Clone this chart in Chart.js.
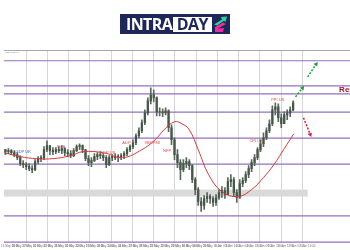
<!DOCTYPE html>
<html><head><meta charset="utf-8">
<script src="https://cdn.jsdelivr.net/npm/chart.js@4.4.1/dist/chart.umd.min.js"></script>
<style>
html,body{margin:0;padding:0;background:#fff;width:350px;height:250px;overflow:hidden}
#wrap{position:absolute;left:0;top:0;width:350px;height:250px}
.logo{position:absolute;left:120px;top:14px;width:110px;height:20px;background:#1e2858;font-family:'Open Sans',sans-serif;font-weight:700;z-index:2}
.logo .a{position:absolute;left:6px;top:0;line-height:20px;font-size:16px;color:#fff;letter-spacing:-0.6px}
.logo .b{position:absolute;left:53px;top:2.5px;width:38.5px;height:15px;background:#fff;color:#1e2858;font-size:16px;line-height:15px;text-align:center;letter-spacing:-0.6px}
.logo svg{position:absolute;left:93px;top:2px}
</style></head>
<body>
<div id="wrap"><canvas id="c"></canvas></div>
<div class="logo"><span class="a">INTRA</span><span class="b">DAY</span>
<svg width="15" height="17" viewBox="0 0 15 17"><polygon points="1,8.5 9,3.5 8,1 14,0.5 12.5,6 11,4.8 4,9.5" fill="#2fd39a"/><polygon points="2,11 10,6.5 13,8 5,12.5 11,12 10,16 2,16" fill="#e52f9c"/></svg>
</div>
<script>
const tickLabels = ['16 May 08:00','16 May 22:00','17 May 12:00','20 May 02:00','20 May 16:00','21 May 06:00','21 May 20:00','22 May 10:00','23 May 00:00','23 May 14:00','24 May 04:00','24 May 18:00','27 May 08:00','27 May 22:00','28 May 12:00','29 May 02:00','29 May 16:00','30 May 06:00','30 May 20:00','31 May 10:00','3 Jun 00:00','3 Jun 14:00','4 Jun 04:00','4 Jun 18:00','5 Jun 08:00','5 Jun 22:00','6 Jun 12:00','7 Jun 02:00','7 Jun 16:00'];

const highs = [1.2650,1.26525,1.2650,1.26475,1.26425,1.2635,1.26225,1.26175,1.2615,1.2610,
1.2625,1.26325,1.2635,1.26575,1.26725,1.2660,1.2655,1.2655,1.26575,1.2660,
1.2655,1.2650,1.26475,1.26525,1.26625,1.2665,1.26625,1.2650,1.2635,1.2630,
1.2640,1.26425,1.2645,1.2640,1.2635,1.2635,1.26375,1.2640,1.26375,1.2640,
1.2645,1.2655,1.26625,1.2675,1.2690,1.2705,1.2725,1.2750,1.2780,1.2805,
1.2800,1.27825,1.2755,1.27525,1.2755,1.2750,1.27125,1.2680,1.2650,1.2625,
1.2625,1.2630,1.2625,1.26125,1.2580,1.2555,1.2530,1.2535,1.25425,1.25375,
1.25325,1.25375,1.2550,1.25575,1.2555,1.2580,1.25875,1.2580,1.2550,1.2575,
1.2580,1.2595,1.2610,1.2625,1.26375,1.2655,1.2675,1.26925,1.2705,1.2725,
1.2760,1.27675,1.2765,1.2740,1.2745,1.2750,1.27575,1.27725];

const lows = [1.26375,1.2640,1.26375,1.26325,1.2625,1.2610,1.2605,1.2600,1.25975,1.25925,
1.25975,1.2615,1.2620,1.2625,1.2645,1.26375,1.26375,1.2640,1.26425,1.2640,
1.2635,1.26325,1.2630,1.26325,1.2645,1.2650,1.26425,1.26225,1.2610,1.26075,
1.2620,1.2625,1.26275,1.26225,1.2605,1.2610,1.26225,1.2625,1.2620,1.2625,
1.26275,1.2635,1.2645,1.26525,1.26625,1.2680,1.26925,1.27125,1.27375,1.2765,
1.2770,1.2735,1.2735,1.27325,1.27375,1.2695,1.26625,1.2625,1.2605,1.2575,
1.2595,1.2605,1.2600,1.25675,1.25375,1.2510,1.2495,1.2500,1.25175,1.2515,
1.25075,1.2510,1.2525,1.2530,1.25275,1.2540,1.25575,1.25325,1.25175,1.25275,
1.25575,1.25675,1.2580,1.2595,1.2610,1.2625,1.2645,1.26575,1.2675,1.26925,
1.2710,1.27375,1.2720,1.2705,1.2715,1.2725,1.27325,1.27475];

const closes = [1.2645,1.26475,1.26425,1.26375,1.2630,1.2615,1.26125,1.26075,1.26025,1.2600,
1.2620,1.26275,1.2630,1.2650,1.2660,1.26475,1.2645,1.2650,1.26475,1.26525,
1.26425,1.2640,1.2635,1.26475,1.26575,1.2660,1.2650,1.26275,1.26175,1.26225,
1.26325,1.26375,1.2635,1.2630,1.26125,1.2630,1.26325,1.2630,1.26325,1.2635,
1.2640,1.2650,1.26575,1.26675,1.2685,1.26975,1.27175,1.27425,1.27725,1.27875,
1.2780,1.2745,1.2745,1.27425,1.27475,1.2705,1.2675,1.26375,1.26175,1.2600,
1.2615,1.2620,1.2610,1.2575,1.2550,1.2520,1.2510,1.25275,1.25325,1.25275,
1.25175,1.2530,1.25425,1.25475,1.25375,1.2570,1.2575,1.25425,1.2530,1.2565,
1.25725,1.25875,1.26025,1.26175,1.2630,1.2650,1.2665,1.2680,1.26975,1.2715,
1.2750,1.27575,1.2730,1.2715,1.27375,1.27425,1.2750,1.27675];
const firstOpen = 1.2650;

const maIdx  = [-0.5,5,10.5,16,22,26,33,39.5,46,50.5,53.5,57,59.5,62,65,68.5,73,78.5,83,87,90.5,94,97.2];
const maVals = [1.26425,1.26325,1.26275,1.26275,1.2635,1.2645,1.26425,1.2630,1.2650,1.2675,1.2700,1.2720,1.2715,1.2700,1.2650,1.25875,1.2545,1.25325,1.2550,1.2580,1.26125,1.26525,1.2690];

const levels = [1.2873,1.2810,1.2790,1.2744,1.2679,1.2614,1.2484,1.2418];
const zoneLow = 1.25325, zoneHigh = 1.2550;

const upArrow1X = [97.8,100.2],  upArrow1Y = [1.27825,1.2805];
const upArrow2X = [101.9,104.8], upArrow2Y = [1.28325,1.2865];
const downArrowX = [100.5,102.8], downArrowY = [1.2730,1.26875];

const ukEventNames = ['GDP UK'], ukEventIdx = [6], ukEventPrice = [1.2645];
const usEventNames = ['PCE','GDP US','ADP','ISM/PMI','NFP','CPI US','PPI US'];
const usEventIdx   = [18.8,34.5,40.8,49.5,54.5,84.5,91.8];
const usEventPrice = [1.26575,1.26425,1.26675,1.26675,1.26475,1.26725,1.2775];
const resLabel = 'Resistance', resIdx = 112.5, resPrice = 1.2800;
const chartTitle = 'GBPUSD,H4';

const TICK0 = 1.57, TICKSTEP = 3.583;
const zoneEnd = TICK0 + TICKSTEP * (tickLabels.length - 1);

const wickData = highs.map((h,i)=>({x:i, y:[lows[i], h]}));
const bodyData = closes.map((c,i)=>({x:i, y:[i===0?firstOpen:closes[i-1], c]}));
const maData = maIdx.map((v,i)=>({x:v, y:maVals[i]}));
const pts = (xs,ys)=>xs.map((v,i)=>({x:v,y:ys[i]}));

const overlay = {
  id:'overlay',
  beforeDatasetsDraw(chart){
    const {ctx, chartArea:a, scales:{x,y}} = chart;
    ctx.save();
    const zt=y.getPixelForValue(zoneHigh), zb=y.getPixelForValue(zoneLow);
    ctx.fillStyle='#d9d9d9';
    ctx.fillRect(a.left, zt, x.getPixelForValue(zoneEnd)-a.left, zb-zt);
    ctx.strokeStyle='#9370bf'; ctx.lineWidth=1.2;
    levels.forEach(v=>{const py=y.getPixelForValue(v); ctx.beginPath(); ctx.moveTo(a.left,py); ctx.lineTo(a.right,py); ctx.stroke();});
    ctx.strokeStyle='#a8a8a8'; ctx.lineWidth=1;
    ctx.beginPath(); ctx.moveTo(a.left,a.top+0.5); ctx.lineTo(a.right,a.top+0.5); ctx.stroke();
    ctx.fillStyle='#888'; ctx.font='2.5px Arial'; ctx.textBaseline='top'; ctx.textAlign='left';
    ctx.fillText(chartTitle, a.left+1, a.top+1.5);
    ctx.restore();
  },
  afterDatasetsDraw(chart){
    const {ctx, scales:{x,y}} = chart;
    ctx.save();
    chart.data.datasets.forEach((ds,i)=>{
      if(!ds.arrowHead) return;
      const p=chart.getDatasetMeta(i).data; const p0=p[p.length-2], p1=p[p.length-1];
      const ang=Math.atan2(p1.y-p0.y,p1.x-p0.x);
      const L=4, W=2.3;
      ctx.fillStyle=ds.borderColor;
      ctx.beginPath();
      ctx.moveTo(p1.x+Math.cos(ang)*L*0.6, p1.y+Math.sin(ang)*L*0.6);
      ctx.lineTo(p1.x-Math.cos(ang)*L*0.4+Math.cos(ang+Math.PI/2)*W, p1.y-Math.sin(ang)*L*0.4+Math.sin(ang+Math.PI/2)*W);
      ctx.lineTo(p1.x-Math.cos(ang)*L*0.4-Math.cos(ang+Math.PI/2)*W, p1.y-Math.sin(ang)*L*0.4-Math.sin(ang+Math.PI/2)*W);
      ctx.closePath(); ctx.fill();
    });
    ctx.textAlign='center'; ctx.textBaseline='middle'; ctx.font='4px Arial';
    ctx.fillStyle='#3a55cc';
    ukEventNames.forEach((n,i)=>ctx.fillText(n, x.getPixelForValue(ukEventIdx[i]), y.getPixelForValue(ukEventPrice[i])));
    ctx.fillStyle='#e04a4a';
    usEventNames.forEach((n,i)=>ctx.fillText(n, x.getPixelForValue(usEventIdx[i]), y.getPixelForValue(usEventPrice[i])));
    ctx.textAlign='left'; ctx.font='bold 8px Arial'; ctx.fillStyle='#9e1632';
    ctx.fillText(resLabel, x.getPixelForValue(resIdx), y.getPixelForValue(resPrice));
    ctx.restore();
  }
};

new Chart(document.getElementById('c'), {
  type:'bar',
  data:{datasets:[
    {type:'bar', data:wickData, backgroundColor:'#5a685c', barThickness:1, grouped:false, order:3},
    {type:'bar', data:bodyData, backgroundColor:'#465648', barThickness:1.6, grouped:false, order:2},
    {type:'line', data:maData, borderColor:'#d33b3b', borderWidth:1, pointRadius:0, tension:0.4, order:1},
    {type:'line', data:pts(upArrow1X,upArrow1Y), borderColor:'#1f9a3a', borderWidth:1.5, borderDash:[2,1.5], pointRadius:0, arrowHead:true, order:0},
    {type:'line', data:pts(upArrow2X,upArrow2Y), borderColor:'#1f9a3a', borderWidth:1.5, borderDash:[2,1.5], pointRadius:0, arrowHead:true, order:0},
    {type:'line', data:pts(downArrowX,downArrowY), borderColor:'#d3203a', borderWidth:1.5, borderDash:[2,1.5], pointRadius:0, arrowHead:true, order:0}
  ]},
  options:{
    responsive:true, maintainAspectRatio:false, animation:false, devicePixelRatio:1,
    layout:{padding:{top:50,left:0,right:0,bottom:1}},
    plugins:{legend:{display:false}, tooltip:{enabled:false}},
    events:[],
    scales:{
      x:{type:'linear', min:-0.5, max:116.17, offset:false,
        afterBuildTicks:s=>{ s.ticks = tickLabels.map((_,k)=>({value: TICK0 + TICKSTEP*k})); },
        grid:{drawTicks:false, lineWidth:1, color:c=>(c.index>=2 && c.index%2===0)?'#d6d6d6':'rgba(0,0,0,0)'},
        border:{display:false},
        ticks:{font:{size:3, family:'Arial'}, color:'#777', padding:1, maxRotation:0, autoSkip:false, callback:(v,i)=>tickLabels[i]}
      },
      y:{display:false, min:1.2415, max:1.2900}
    }
  },
  plugins:[overlay]
});
</script>
</body></html>
